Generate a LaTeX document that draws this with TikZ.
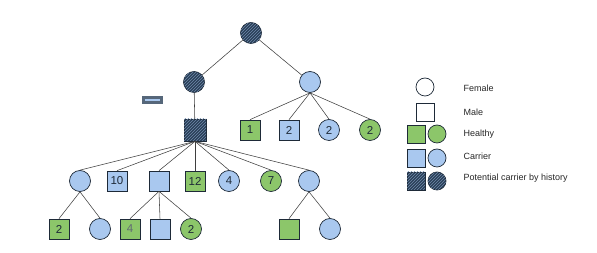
\documentclass[tikz,border=0pt]{standalone}
\usepackage{fontspec}
\setmainfont{Liberation Sans}
\usetikzlibrary{patterns}
\definecolor{ink}{HTML}{1E2A38}
\definecolor{healthy}{HTML}{8CC66A}
\definecolor{carrier}{HTML}{A9C8EF}
\definecolor{history}{HTML}{2A3F58}
\definecolor{linegray}{HTML}{3F3F3F}
\definecolor{minusgray}{HTML}{56677A}
\tikzset{
person/.style={draw=ink,line width=.7pt,inner sep=0pt,font=\fontsize{11.5}{11.5}\selectfont,text=ink},
fem/.style={person,circle,minimum size=21pt},
mal/.style={person,rectangle,minimum size=20pt},
well/.style={fill=healthy},
carr/.style={fill=carrier},
hist/.style={fill=history,postaction={pattern=north east lines,pattern color=carrier!55!history}},
minus/.style={rectangle,fill=minusgray,minimum width=21pt,minimum height=8pt,inner sep=0pt,
  path picture={\draw[carrier,line width=1.8pt] ([xshift=3pt]path picture bounding box.west)--([xshift=-3pt]path picture bounding box.east);}},
link/.style={draw=linegray,line width=.55pt},
key/.style={font=\fontsize{9}{9}\selectfont,anchor=west,text=black!85}}
\begin{document}
\begin{tikzpicture}[x=1pt,y=-1pt]
\useasboundingbox (0,0) rectangle (597,253);
% grandparents
\node[fem,hist] (gm) at (251,33) {};
\node[fem,hist] (mom) at (194,82) {};
\node[fem,carr] (aunt) at (310,82) {};
\node[minus] (neg) at (152,100) {};
\node[mal,hist,minimum size=22pt] (pat) at (195,130) {};
% aunt's children
\node[mal,well] (a1) at (250,130) {1};
\node[mal,carr] (a2) at (289,130) {2};
\node[fem,carr] (a3) at (329,130) {2};
\node[fem,well] (a4) at (370,130) {2};
% patient's children
\node[fem,carr] (c1) at (80,181) {};
\node[mal,carr] (c2) at (117,181) {10};
\node[mal,carr] (c3) at (159,181) {};
\node[mal,well] (c4) at (195,181) {12};
\node[fem,carr] (c5) at (229,181) {4};
\node[fem,well] (c6) at (271,181) {7};
\node[fem,carr] (c7) at (309,181) {};
% grandchildren
\node[mal,well] (g1) at (59,229) {2};
\node[fem,carr] (g2) at (100,229) {};
\node[mal,well] (g3) at (130,229) {\color{ink!70}4};
\node[mal,carr] (g4) at (160,229) {};
\node[fem,well] (g5) at (191,229) {2};
\node[mal,well] (g6) at (289,229) {};
\node[fem,carr] (g7) at (330,229) {};
\draw[link] (gm)--(mom);
\draw[link] (gm)--(aunt);
\draw[link] (mom)--(pat);
\foreach \k in {a1,a2,a3,a4} \draw[link] (aunt.south)--(\k.north);
\foreach \k in {c1,c2,c3,c4,c5,c6,c7} \draw[link] (pat.south)--(\k.north);
\draw[link] (c1.south)--(g1.north);
\draw[link] (c1.south)--(g2.north);
\foreach \k in {g3,g4,g5} \draw[link] (c3.south)--(\k.north);
\draw[link] (c7.south)--(g6.north);
\draw[link] (c7.south)--(g7.north);
% legend
\node[fem,minimum size=18pt,fill=white] (kf) at (425,87) {};
\node[mal,minimum size=18pt,fill=white] (km) at (425,112) {};
\node[mal,well,minimum size=18pt] (kws) at (416,134) {};
\node[fem,well,minimum size=18pt] (kwc) at (437,134) {};
\node[mal,carr,minimum size=18pt] (kcs) at (416,158) {};
\node[fem,carr,minimum size=18pt] (kcc) at (437,158) {};
\node[mal,hist,minimum size=18pt] (khs) at (416,181) {};
\node[fem,hist,minimum size=18pt] (khc) at (437,181) {};
\node[key] (tf) at (460,88) {Female};
\node[key] (tm) at (460,112) {Male};
\node[key] (tw) at (460,134) {Healthy};
\node[key] (tc) at (460,156) {Carrier};
\node[key] (th) at (460,178) {Potential carrier by history};
\end{tikzpicture}
\end{document}
